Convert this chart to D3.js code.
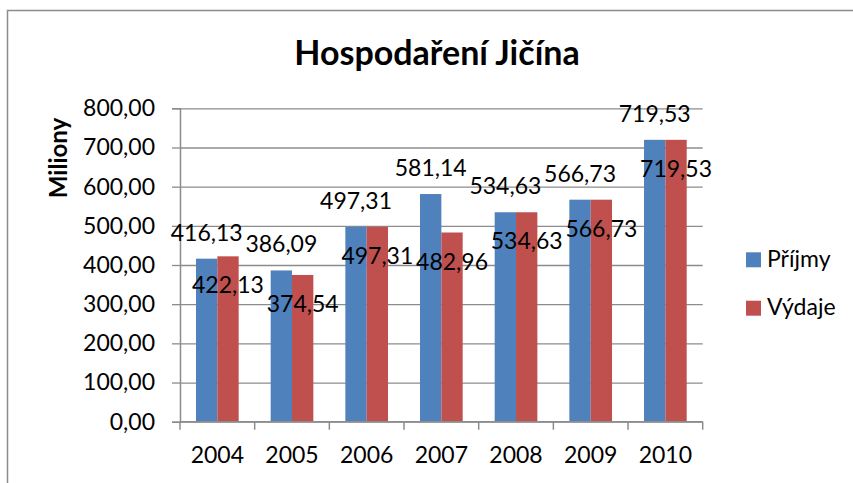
<!DOCTYPE html>
<html>
<head>
<meta charset="utf-8">
<script src="https://cdn.jsdelivr.net/npm/d3@7"></script>
<style>
  body { margin: 0; background: #fff; }
  text { font-family: Lato, "Open Sans", sans-serif; fill: #000; }
</style>
</head>
<body>
<script>
// data
const years = ['2004', '2005', '2006', '2007', '2008', '2009', '2010'];
const seriesNames = ['Příjmy', 'Výdaje'];
const prijmy = [416.13, 386.09, 497.31, 581.14, 534.63, 566.73, 719.53];
const vydaje = [422.13, 374.54, 497.31, 482.96, 534.63, 566.73, 719.53];
const yTicks = [0, 100, 200, 300, 400, 500, 600, 700, 800];
const colors = ['#4F81BD', '#C0504D'];

const seriesValues = [prijmy, vydaje];

// SVG parameters
const svgWidth = 853;
const svgHeight = 483;
const plotLeft = 180;
const plotRight = 702.7;
const plotTop = 108.3;
const plotBottom = 421.7;

const czLocale = d3.formatLocale({decimal: ',', thousands: ' ', grouping: [3], currency: ['', ' Kč']});
const fmt = czLocale.format('.2f');

const svg = d3.select('body')
.append('svg')
.attr('width', svgWidth)
.attr('height', svgHeight);

// chart border (right and bottom edges fall outside the window)
svg.append('rect')
.attr('x', 7.5)
.attr('y', 10.5)
.attr('width', 860)
.attr('height', 480)
.attr('fill', 'none')
.attr('stroke', '#8c8c8c')
.attr('stroke-width', 1.5);

// Scaling
const xScale = d3.scaleBand()
.domain(years)
.range([plotLeft, plotRight])
.paddingInner(0)
.paddingOuter(0);

// Excel gap width 75%
const groupWidth = xScale.bandwidth() / 1.75;
const xSub = d3.scaleBand()
.domain(seriesNames)
.range([0, groupWidth]);

const yScale = d3.scaleLinear()
.domain([0, 800])
.range([plotBottom, plotTop]);

// gridlines
svg.append('g')
.attr('transform', `translate(${plotLeft}, 0)`)
.call(d3.axisLeft(yScale).tickValues(yTicks).tickSize(-(plotRight - plotLeft)).tickFormat(''))
.call(g => g.select('.domain').remove())
.call(g => g.selectAll('line').attr('stroke', '#8c8c8c').attr('stroke-width', 1.3));

// bars
const groups = svg.selectAll('g.year')
.data(years)
.enter()
.append('g')
.attr('class', 'year')
.attr('transform', d => `translate(${xScale(d) + (xScale.bandwidth() - groupWidth) / 2}, 0)`);

groups.selectAll('rect')
.data((d, i) => seriesNames.map((s, j) => ({s, j, v: seriesValues[j][i]})))
.enter()
.append('rect')
.attr('x', d => xSub(d.s))
.attr('y', d => yScale(d.v))
.attr('width', xSub.bandwidth())
.attr('height', d => plotBottom - yScale(d.v))
.attr('fill', d => colors[d.j]);

// y axis
const yAxis = d3.axisLeft(yScale)
.tickValues(yTicks)
.tickSize(8)
.tickPadding(17)
.tickFormat(d => fmt(d));

svg.append('g')
.attr('transform', `translate(${plotLeft}, 0)`)
.call(yAxis)
.call(g => g.select('.domain').attr('stroke', '#8c8c8c').attr('stroke-width', 1.5))
.call(g => g.selectAll('line').attr('stroke', '#8c8c8c').attr('stroke-width', 1.3))
.call(g => g.selectAll('text').attr('font-size', 23).attr('font-family', 'Lato').attr('fill', '#000'));

// x axis: baseline, boundary ticks, labels
const xAxisG = svg.append('g');
xAxisG.append('line')
.attr('x1', plotLeft).attr('x2', plotRight)
.attr('y1', plotBottom).attr('y2', plotBottom)
.attr('stroke', '#8c8c8c').attr('stroke-width', 1.5);

xAxisG.selectAll('line.tick')
.data(years.concat(['end']))
.enter()
.append('line')
.attr('class', 'tick')
.attr('x1', (d, i) => plotLeft + i * xScale.step())
.attr('x2', (d, i) => plotLeft + i * xScale.step())
.attr('y1', plotBottom)
.attr('y2', plotBottom + 8)
.attr('stroke', '#8c8c8c').attr('stroke-width', 1.5);

xAxisG.selectAll('text')
.data(years)
.enter()
.append('text')
.attr('x', d => xScale(d) + xScale.bandwidth() / 2)
.attr('y', plotBottom + 41.5)
.attr('text-anchor', 'middle')
.attr('font-size', 23)
.text(d => d);

// data labels
years.forEach((yr, i) => {
    const gx = xScale(yr) + (xScale.bandwidth() - groupWidth) / 2;
    seriesNames.forEach((s, j) => {
        const v = seriesValues[j][i];
        const cx = gx + xSub(s) + xSub.bandwidth() / 2;
        const y = j === 0 ? yScale(v) - 18 : yScale(v) + 37;
        svg.append('text')
        .attr('x', cx)
        .attr('y', y)
        .attr('text-anchor', 'middle')
        .attr('font-size', 23)
        .text(fmt(v));
    });
});

// title
svg.append('text')
.attr('x', 437)
.attr('y', 65)
.attr('text-anchor', 'middle')
.attr('font-size', 34)
.attr('font-weight', 'bold')
.text('Hospodaření Jičína');

// y axis title
svg.append('text')
.attr('transform', 'translate(67, 158) rotate(-90)')
.attr('text-anchor', 'middle')
.attr('font-size', 24)
.attr('font-weight', 'bold')
.text('Miliony');

// legend
const legend = svg.selectAll('g.legend')
.data(seriesNames)
.enter()
.append('g')
.attr('class', 'legend')
.attr('transform', (d, i) => `translate(746, ${252.3 + i * 48.4})`);

legend.append('rect')
.attr('width', 15)
.attr('height', 15)
.attr('fill', (d, i) => colors[i]);

legend.append('text')
.attr('x', 21)
.attr('y', 14.5)
.attr('font-size', 23)
.text(d => d);
</script>
</body>
</html>
